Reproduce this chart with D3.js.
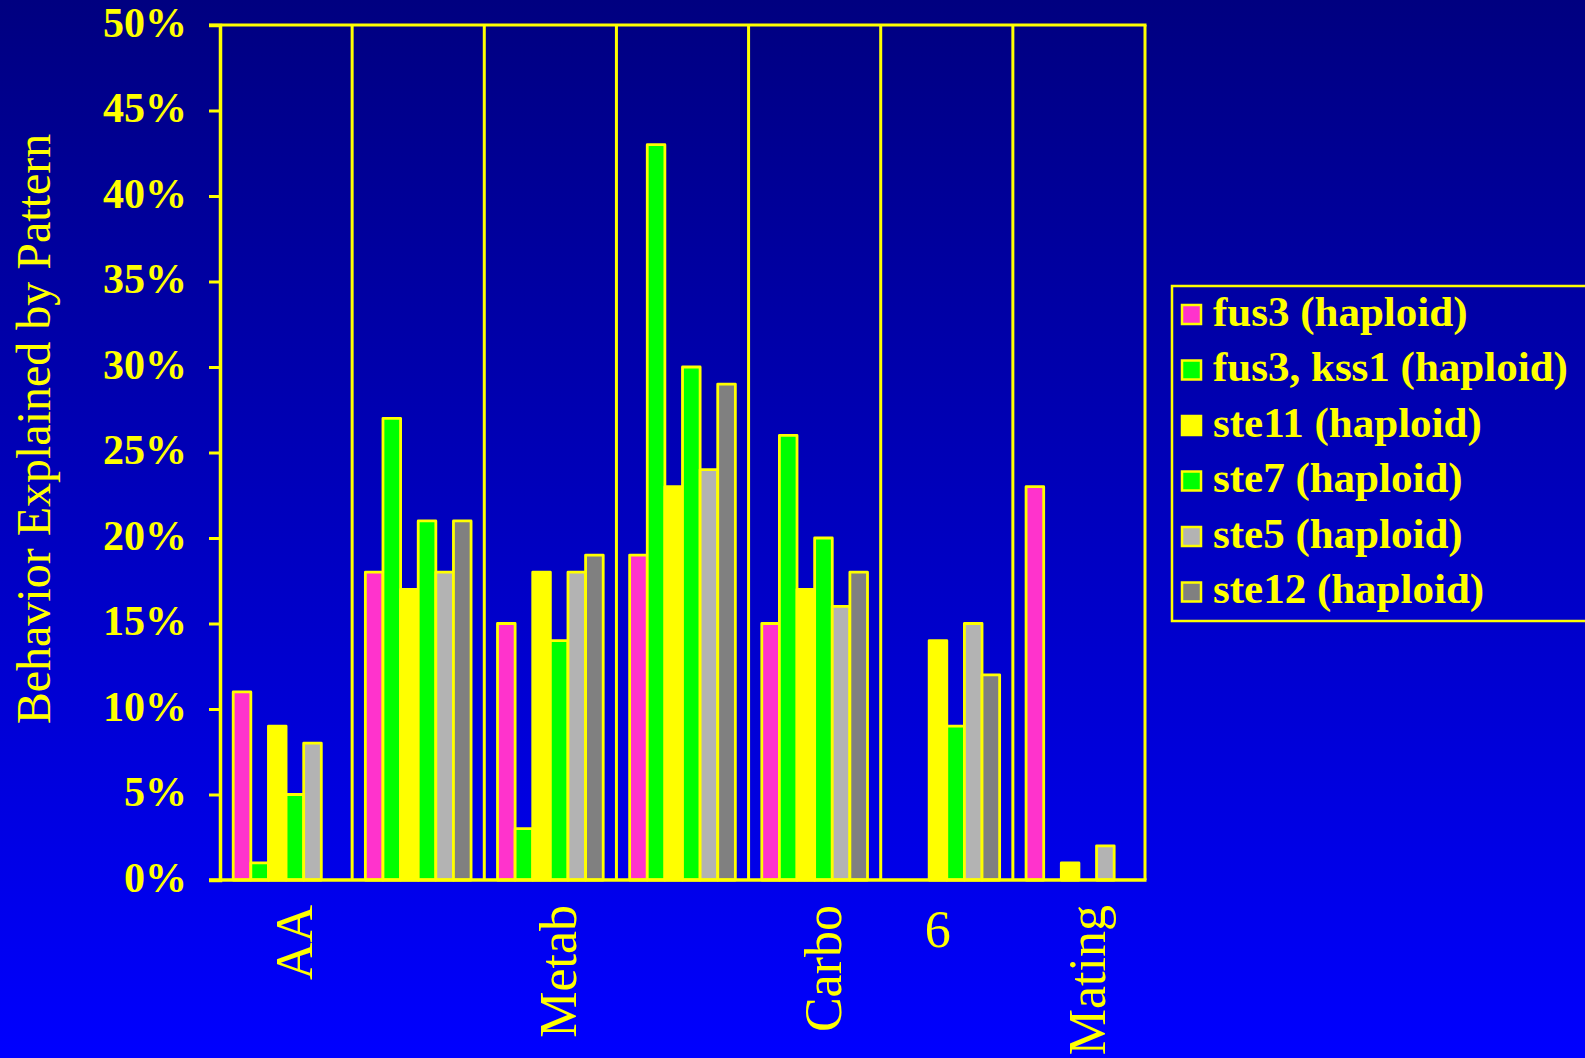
<!DOCTYPE html>
<html>
<head>
<meta charset="utf-8">
<script src="https://cdn.jsdelivr.net/npm/d3@7"></script>
<style>
  html, body { margin: 0; padding: 0; overflow: hidden; }
  svg { display: block; }
</style>
</head>
<body>
<svg id="chart" width="1585" height="1058"></svg>
<script>
// Category groups along the x axis (two groups carry no label)
const categories = ["AA", "", "Metab", "", "Carbo", "6", "Mating"];

// Strains (series) shown in each group
const seriesNames = [
  "fus3 (haploid)",
  "fus3, kss1 (haploid)",
  "ste11 (haploid)",
  "ste7 (haploid)",
  "ste5 (haploid)",
  "ste12 (haploid)"
];
const seriesColors = ["#ff33cc", "#00ff00", "#ffff00", "#00ff00", "#b3b3b3", "#808080"];

// Percent of behaviour explained, one array per strain, in category order
const fus3      = [11, 18, 15, 19, 15,  0, 23];
const fus3kss1  = [ 1, 27,  3, 43, 26,  0,  0];
const ste11     = [ 9, 17, 18, 23, 17, 14,  1];
const ste7      = [ 5, 21, 14, 30, 20,  9,  0];
const ste5      = [ 8, 18, 18, 24, 16, 15,  2];
const ste12     = [ 0, 21, 19, 29, 18, 12,  0];
const seriesValues = [fus3, fus3kss1, ste11, ste7, ste5, ste12];

// Y axis tick values (percent)
const yTicks = [0, 5, 10, 15, 20, 25, 30, 35, 40, 45, 50];

const YELLOW = "#ffff00";
const FONT = "'Liberation Serif', 'Times New Roman', serif";

const svg = d3.select("#chart");

// Background: navy at the top fading to bright blue at the bottom
const defs = svg.append("defs");
const grad = defs.append("linearGradient")
  .attr("id", "bg").attr("x1", 0).attr("y1", 0).attr("x2", 0).attr("y2", 1);
grad.append("stop").attr("offset", "0%").attr("stop-color", "#000080");
grad.append("stop").attr("offset", "100%").attr("stop-color", "#0000ff");
svg.append("rect").attr("width", 1585).attr("height", 1058).attr("fill", "url(#bg)");

const plot = { left: 220, right: 1145, top: 25, bottom: 880 };

const x0 = d3.scaleBand()
  .domain(d3.range(categories.length))
  .range([plot.left, plot.right])
  .padding(0);

const x1 = d3.scaleBand()
  .domain(d3.range(seriesNames.length))
  .range([0, x0.bandwidth()])
  .paddingInner(0)
  .paddingOuter(0.75);

const y = d3.scaleLinear().domain([0, 50]).range([plot.bottom, plot.top]);

// Bars
const groups = svg.append("g").selectAll("g")
  .data(categories)
  .join("g")
  .attr("transform", (d, i) => `translate(${x0(i)},0)`);

groups.selectAll("rect")
  .data((d, ci) => seriesValues.map((vals, si) => ({ si, v: vals[ci] })))
  .join("rect")
  .attr("x", d => x1(d.si))
  .attr("width", x1.bandwidth())
  .attr("y", d => y(d.v))
  .attr("height", d => y(0) - y(d.v))
  .attr("fill", d => seriesColors[d.si])
  .attr("stroke", YELLOW)
  .attr("stroke-width", 2.8)
  .attr("stroke-linejoin", "round");

// Group separators and frame
const seps = d3.range(1, categories.length).map(i => x0(i));
svg.append("g").selectAll("line")
  .data(seps)
  .join("line")
  .attr("x1", d => d).attr("x2", d => d)
  .attr("y1", plot.top).attr("y2", plot.bottom)
  .attr("stroke", YELLOW).attr("stroke-width", 3);

svg.append("line")
  .attr("x1", plot.left - 11).attr("x2", plot.right + 1.5)
  .attr("y1", plot.top).attr("y2", plot.top)
  .attr("stroke", YELLOW).attr("stroke-width", 3);
svg.append("line")
  .attr("x1", plot.right).attr("x2", plot.right)
  .attr("y1", plot.top).attr("y2", plot.bottom)
  .attr("stroke", YELLOW).attr("stroke-width", 3);
svg.append("line")
  .attr("x1", plot.left - 11).attr("x2", plot.right + 1.5)
  .attr("y1", plot.bottom).attr("y2", plot.bottom)
  .attr("stroke", YELLOW).attr("stroke-width", 3.5);

// Y axis
const yAxis = d3.axisLeft(y)
  .tickValues(yTicks)
  .tickFormat(d => d + "%")
  .tickSize(11)
  .tickPadding(22);

const ya = svg.append("g")
  .attr("transform", `translate(${plot.left},0)`)
  .call(yAxis);
ya.select(".domain").attr("stroke", YELLOW).attr("stroke-width", 3.5);
ya.selectAll(".tick line").attr("stroke", YELLOW).attr("stroke-width", 3);
ya.selectAll(".tick text")
  .attr("fill", YELLOW)
  .attr("font-family", FONT)
  .attr("font-weight", "bold")
  .attr("font-size", 42)
  .attr("dy", 11)
  .attr("dominant-baseline", "alphabetic");

// Y axis title
svg.append("text")
  .attr("transform", "translate(50,429) rotate(-90)")
  .attr("text-anchor", "middle")
  .attr("fill", YELLOW)
  .attr("font-family", FONT)
  .attr("font-size", 48)
  .text("Behavior Explained by Pattern");

// Category labels (vertical, except the single digit)
categories.forEach((c, i) => {
  if (!c) return;
  const cx = x0(i) + x0.bandwidth() / 2;
  const t = svg.append("text")
    .attr("fill", YELLOW)
    .attr("font-family", FONT)
    .attr("font-size", 52)
    .text(c);
  if (c.length === 1) {
    t.attr("x", cx - 9).attr("y", 947).attr("text-anchor", "middle");
  } else {
    t.attr("transform", `translate(${cx + 26},905) rotate(-90)`)
      .attr("text-anchor", "end");
  }
});

// Legend
const legend = svg.append("g");
legend.append("rect")
  .attr("x", 1172).attr("y", 286)
  .attr("width", 500).attr("height", 335)
  .attr("fill", "none")
  .attr("stroke", YELLOW).attr("stroke-width", 2.5);

const items = legend.selectAll("g.item")
  .data(seriesNames)
  .join("g")
  .attr("class", "item")
  .attr("transform", (d, i) => `translate(0,${314.5 + i * 55.5})`);

items.append("rect")
  .attr("x", 1182).attr("y", -9.5)
  .attr("width", 19).attr("height", 19)
  .attr("fill", (d, i) => seriesColors[i])
  .attr("stroke", YELLOW).attr("stroke-width", 2.5);

items.append("text")
  .attr("x", 1213).attr("y", 11)
  .attr("fill", YELLOW)
  .attr("font-family", FONT)
  .attr("font-weight", "bold")
  .attr("font-size", 43)
  .text(d => d);
</script>
</body>
</html>
